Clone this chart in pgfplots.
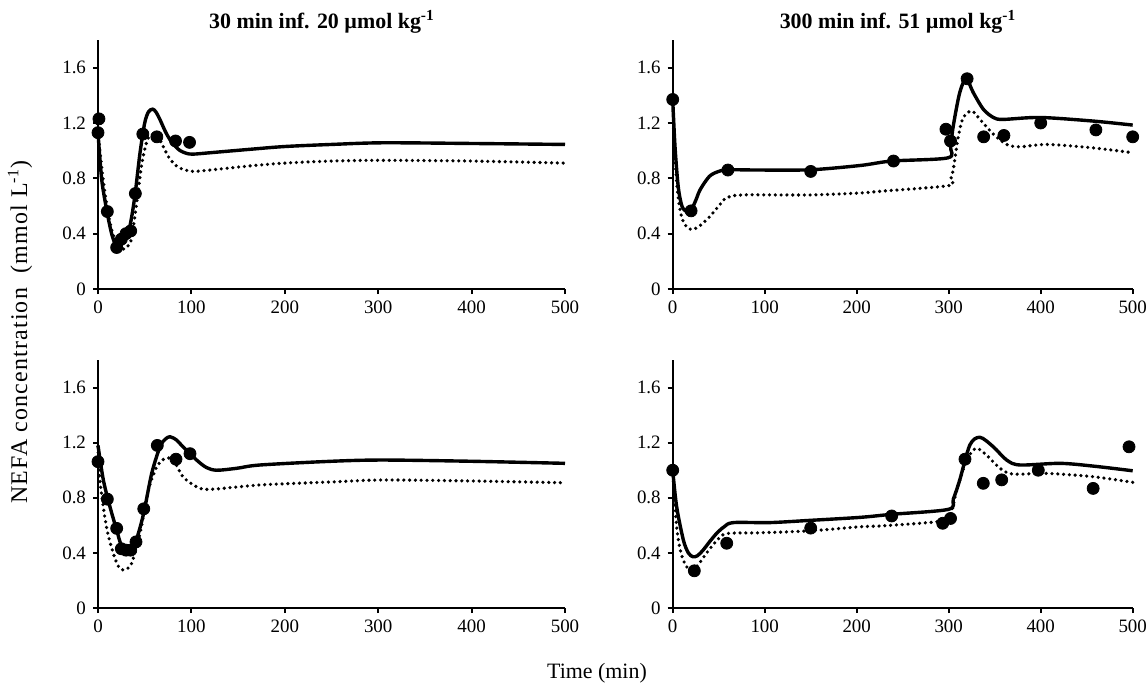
\documentclass[border=0pt]{standalone}
\usepackage{pgfplots}
\pgfplotsset{compat=1.18}
\usepackage{fontspec}
\setmainfont{Liberation Serif}
\begin{document}
\begin{tikzpicture}[x=1bp,y=1bp]
\pgfplotsset{
  panel/.style={
    scale only axis, anchor=south west,
    height=124.5bp,
    xmin=0, xmax=500, ymin=0, ymax=1.8,
    axis x line=bottom, axis y line=left,
    axis line style={-, line width=1bp, black},
    xtick={0,100,200,300,400,500},
    xticklabels={0,100,200,300,400,500},
    ytick={0,0.4,0.8,1.2,1.6},
    yticklabels={0,0.4,0.8,1.2,1.6},
    tick align=outside, major tick length=2.5bp,
    tick style={line width=1bp, black},
    tick label style={font=\fontsize{9.5}{11}\selectfont},
    clip=false,
  },
  sol/.style={line width=1.7bp, black, smooth, no marks},
  dot/.style={line width=1.8bp, black, smooth, no marks, line cap=round, dash pattern=on 0bp off 2.9bp},
  pts/.style={only marks, mark=*, mark size=3bp, black},
}
\path[use as bounding box] (0bp,0bp) rectangle (574bp,-343.5bp);

% ---------- top left ----------
\begin{axis}[panel, at={(49bp,-144.5bp)}, width=233.5bp]
\addplot[dot] coordinates {(0,1.13)(5,0.82)(10,0.58)(15,0.42)(20,0.33)(25,0.295)(29,0.29)(33,0.32)(36,0.37)(41,0.60)(47,0.91)(53,1.08)(59,1.12)(66,1.08)(72,1.00)(77,0.94)(84,0.89)(91,0.865)(102,0.85)(120,0.86)(163,0.89)(200,0.91)(250,0.925)(305,0.93)(400,0.925)(500,0.91)};
\addplot[sol] coordinates {(0,1.13)(4,0.79)(9.6,0.56)(14.6,0.40)(19,0.315)(23,0.30)(27,0.345)(31,0.40)(34,0.45)(37,0.56)(40,0.70)(45,0.985)(50,1.20)(54,1.28)(58.5,1.30)(62,1.28)(66,1.23)(72,1.14)(77,1.08)(83,1.03)(88,1.00)(95,0.98)(102,0.975)(120,0.985)(163,1.01)(200,1.03)(250,1.045)(305,1.057)(400,1.052)(500,1.045)};
\addplot[pts] coordinates {(0,1.13)(1,1.23)(10,0.56)(20,0.30)(25,0.36)(30,0.40)(35,0.42)(40,0.69)(48,1.12)(63,1.10)(83,1.07)(98,1.06)};
\end{axis}

% ---------- top right ----------
\begin{axis}[panel, at={(336.35bp,-144.5bp)}, width=230bp]
\addplot[dot] coordinates {(0,1.37)(2,1.0)(5,0.72)(8,0.57)(12,0.48)(17,0.44)(22,0.43)(30,0.46)(40.5,0.525)(50,0.60)(58.7,0.66)(76.8,0.68)(149,0.68)(204,0.694)(225,0.706)(299.7,0.747)(302,0.79)(305,0.864)(310.5,1.105)(316,1.24)(325,1.287)(334,1.226)(348.5,1.12)(363,1.045)(377.5,1.028)(406.5,1.045)(457,1.02)(500,0.985)};
\addplot[sol] coordinates {(0,1.37)(2.5,1.03)(6,0.74)(10,0.60)(15,0.56)(20,0.57)(25,0.64)(30,0.72)(40,0.815)(50,0.85)(60,0.862)(95,0.86)(150,0.862)(204,0.893)(238,0.925)(299,0.948)(302,1.03)(305,1.18)(312,1.42)(319,1.52)(326.7,1.42)(337.6,1.30)(348.5,1.24)(359,1.226)(399,1.24)(457,1.214)(500,1.185)};
\addplot[pts] coordinates {(0,1.37)(20,0.565)(60,0.86)(150,0.85)(240,0.925)(297,1.155)(302,1.07)(320,1.52)(338,1.10)(360,1.11)(400,1.20)(460,1.15)(500,1.10)};
\end{axis}

% ---------- bottom left ----------
\begin{axis}[panel, at={(49bp,-304bp)}, width=233.5bp, height=124bp]
\addplot[dot] coordinates {(0,1.17)(2,0.93)(9,0.59)(16.4,0.397)(22,0.30)(27,0.276)(31,0.285)(36,0.324)(45,0.542)(54,0.856)(63,1.025)(72,1.086)(80.6,1.074)(91,0.953)(105.6,0.88)(120,0.861)(173.5,0.893)(250,0.915)(305,0.929)(400,0.922)(500,0.909)};
\addplot[sol] coordinates {(0,1.18)(5.7,0.93)(12.8,0.735)(20,0.566)(25,0.457)(32,0.433)(39.6,0.47)(48.5,0.675)(57.5,0.977)(66.4,1.17)(72,1.225)(77,1.243)(84,1.22)(91,1.17)(105.6,1.074)(116,1.02)(127,1.00)(148.5,1.014)(173.5,1.038)(250,1.065)(305,1.074)(400,1.065)(500,1.05)};
\addplot[pts] coordinates {(0,1.062)(10,0.79)(20,0.578)(25,0.43)(30,0.42)(35,0.42)(40.7,0.48)(49,0.72)(63.5,1.18)(83.5,1.08)(98.5,1.12)};
\end{axis}

% ---------- bottom right ----------
\begin{axis}[panel, at={(336.35bp,-304bp)}, width=230bp, height=124bp]
\addplot[dot] coordinates {(0,1.0)(4.3,0.59)(9,0.40)(15,0.30)(20,0.285)(26,0.30)(37,0.40)(48,0.49)(58.7,0.54)(95,0.546)(149,0.56)(204,0.59)(225,0.595)(287,0.626)(301,0.663)(308.7,0.856)(319.6,1.074)(329.7,1.159)(341,1.11)(355.8,1.014)(370,0.972)(406.5,0.977)(457,0.953)(500,0.912)};
\addplot[sol] coordinates {(0,1.0)(4.3,0.735)(11.6,0.493)(17,0.40)(22,0.372)(27,0.38)(33,0.42)(40,0.48)(47.8,0.542)(56,0.59)(65.9,0.62)(105.8,0.62)(149,0.636)(204,0.658)(238,0.68)(299.6,0.716)(305,0.79)(312,0.929)(323,1.183)(334,1.239)(348.5,1.17)(363,1.074)(377.5,1.038)(421,1.05)(457,1.03)(500,0.996)};
\addplot[pts] coordinates {(0,1.0)(23.5,0.27)(58.7,0.47)(150,0.58)(238,0.668)(293.5,0.615)(302,0.65)(317.7,1.08)(337.6,0.905)(357.6,0.93)(397.4,1.0)(457,0.868)(496,1.17)};
\end{axis}

% ---------- texts ----------
\node[font=\bfseries\fontsize{11}{13}\selectfont] at (161bp,-11bp) {30 min inf. 20 µmol kg\textsuperscript{-1}};
\node[font=\bfseries\fontsize{11}{13}\selectfont] at (449bp,-11bp) {300 min inf. 51 µmol kg\textsuperscript{-1}};
\node[font=\fontsize{12}{14}\selectfont\addfontfeature{LetterSpace=5}, rotate=90] at (10bp,-166bp) {NEFA concentration\ \ (mmol L\textsuperscript{-1})};
\node[font=\fontsize{11}{13}\selectfont] at (298.5bp,-336.5bp) {Time (min)};
\end{tikzpicture}
\end{document}
